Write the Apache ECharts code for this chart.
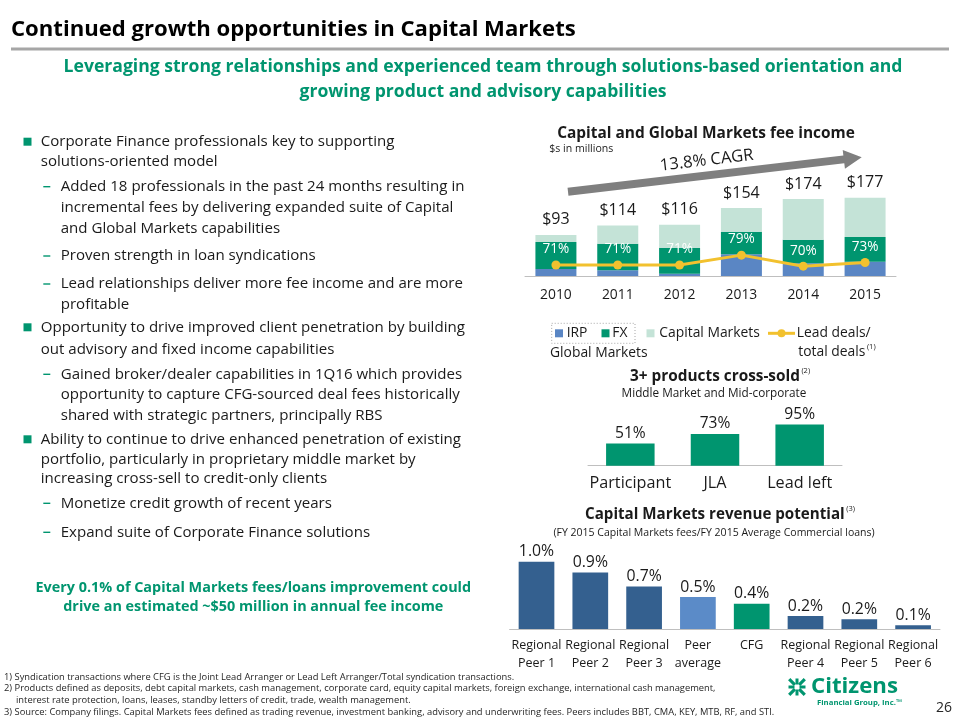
<!DOCTYPE html>
<html>
<head>
<meta charset="utf-8">
<script src="https://cdn.jsdelivr.net/npm/echarts@6/dist/echarts.min.js"></script>
<style>html,body{margin:0;padding:0;background:#fff;}#c{width:960px;height:720px;}</style>
</head>
<body>
<div id="c"></div>
<script>
// ---------- DATA ----------
const years = ['2010', '2011', '2012', '2013', '2014', '2015'];
const irpFees = [16, 13, 5, 49, 29, 32];
const fxFees = [61, 60, 59, 51, 53, 56];
const capMktsFees = [16, 41, 52, 54, 92, 89];
const leadDealPct = [71, 71, 71, 79, 70, 73];

const crossSellCats = ['Participant', 'JLA', 'Lead left'];
const crossSellPct = [51, 73, 95];

const peerCats = ['Regional\nPeer 1', 'Regional\nPeer 2', 'Regional\nPeer 3', 'Peer\naverage', 'CFG',
                  'Regional\nPeer 4', 'Regional\nPeer 5', 'Regional\nPeer 6'];
const peerRatio = [1.0, 0.84, 0.63, 0.475, 0.376, 0.193, 0.144, 0.055];
const peerRatioLabels = ['1.0%', '0.9%', '0.7%', '0.5%', '0.4%', '0.2%', '0.2%', '0.1%'];

const bodyLines = [
  ['b', 'Corporate Finance professionals key to supporting', 141.7],
  ['m', 'solutions-oriented model', 161.7],
  ['s', 'Added 18 professionals in the past 24 months resulting in', 186.7],
  ['c', 'incremental fees by delivering expanded suite of Capital', 207.3],
  ['c', 'and Global Markets capabilities', 228.3],
  ['s', 'Proven strength in loan syndications', 256],
  ['s', 'Lead relationships deliver more fee income and are more', 284],
  ['c', 'profitable', 305],
  ['b', 'Opportunity to drive improved client penetration by building', 327.3],
  ['m', 'out advisory and fixed income capabilities', 349.3],
  ['s', 'Gained broker/dealer capabilities in 1Q16 which provides', 374.3],
  ['c', 'opportunity to capture CFG-sourced deal fees historically', 395],
  ['c', 'shared with strategic partners, principally RBS', 415.7],
  ['b', 'Ability to continue to drive enhanced penetration of existing', 439.3],
  ['m', 'portfolio, particularly in proprietary middle market by', 459.3],
  ['m', 'increasing cross-sell to credit-only clients', 479],
  ['s', 'Monetize credit growth of recent years', 503.3],
  ['s', 'Expand suite of Corporate Finance solutions', 532.3]
];
const footnotes = [
  ['1) Syndication transactions where CFG is the Joint Lead Arranger or Lead Left Arranger/Total syndication transactions.', 4, 677.3],
  ['2) Products defined as deposits, debt capital markets, cash management, corporate card, equity capital markets, foreign exchange, international cash management,', 4, 688.7],
  ['interest rate protection, loans, leases, standby letters of credit, trade, wealth management.', 16, 700.3],
  ['3) Source: Company filings. Capital Markets fees defined as trading revenue, investment banking, advisory and underwriting fees. Peers includes BBT, CMA, KEY, MTB, RF, and STI.', 4, 712]
];

// ---------- STYLE ----------
const FONT = 'Open Sans';
const GREEN = '#00956F';
const TXT = '#1a1a1a';
const cv = document.createElement('canvas').getContext('2d');
function fit(text, weight, w) {
  cv.font = weight + ' 100px "' + FONT + '"';
  return +(100 * w / cv.measureText(text).width).toFixed(2);
}
function mw(text, weight, size) {
  cv.font = weight + ' ' + size + 'px "' + FONT + '"';
  return cv.measureText(text).width;
}
function T(x, y, text, size, o) {
  o = o || {};
  const al = o.align || 'left';
  return {
    type: 'text', x: x, y: y, rotation: o.rot || 0, silent: true, z: 10,
    style: {
      text: text, x: 0, y: 0, fill: o.color || TXT, fontSize: size, fontFamily: FONT,
      fontWeight: o.weight || 'normal', textAlign: al, align: al,
      textVerticalAlign: 'middle', verticalAlign: 'middle'
    }
  };
}

const g = [];
// header
g.push(T(11, 30, 'Continued growth opportunities in Capital Markets', fit('Continued growth opportunities in Capital Markets', 'bold', 565), {weight: 'bold', color: '#000'}));
g.push({type: 'rect', shape: {x: 11, y: 47.5, width: 938, height: 3}, style: {fill: '#A6A6A6'}, silent: true});
const sub1 = 'Leveraging strong relationships and experienced team through solutions-based orientation and';
const subSize = fit(sub1, 'bold', 839);
g.push(T(483, 66.7, sub1, subSize, {weight: 'bold', color: GREEN, align: 'center'}));
g.push(T(483, 91.7, 'growing product and advisory capabilities', subSize, {weight: 'bold', color: GREEN, align: 'center'}));

// body text
const bodySize = fit('Added 18 professionals in the past 24 months resulting in', 'normal', 404);
bodyLines.forEach(function (l) {
  const t = l[0], y = l[2];
  const x = (t === 'b' || t === 'm') ? 40.7 : 60.7;
  if (t === 'b') g.push({type: 'rect', shape: {x: 23.5, y: y - 4, width: 8, height: 8}, style: {fill: GREEN}, silent: true});
  if (t === 's') g.push({type: 'rect', shape: {x: 43.3, y: y - 0.7, width: 7, height: 1.4}, style: {fill: GREEN}, silent: true});
  g.push(T(x, y, l[1], bodySize));
});
const call1 = 'Every 0.1% of Capital Markets fees/loans improvement could';
const callSize = fit(call1, 'bold', 436);
g.push(T(253.3, 587.7, call1, callSize, {weight: 'bold', color: GREEN, align: 'center'}));
g.push(T(253.3, 607.3, 'drive an estimated ~$50 million in annual fee income', callSize, {weight: 'bold', color: GREEN, align: 'center'}));

// footnotes
const fnSize = fit(footnotes[3][0], 'normal', 771);
footnotes.forEach(function (f) { g.push(T(f[1], f[2], f[0], fnSize, {color: '#262626'})); });

// logo + page number
(function () {
  const cx = 797, cy = 687;
  for (let i = 0; i < 4; i++) {
    const a = i * Math.PI / 2 + Math.PI / 4;
    g.push({type: 'rect', x: cx, y: cy, rotation: a, shape: {x: 3, y: -1.6, width: 8, height: 3.2}, style: {fill: GREEN}, silent: true});
  }
  for (let i = 0; i < 4; i++) {
    const a = i * Math.PI / 2;
    g.push({type: 'rect', x: cx, y: cy, rotation: a, shape: {x: 2.5, y: -1.5, width: 6, height: 3}, style: {fill: GREEN}, silent: true});
  }
})();
g.push(T(811, 687, 'Citizens', fit('Citizens', 'bold', 87), {weight: 'bold', color: GREEN}));
g.push(T(817, 702.7, 'Financial Group, Inc.\u2122', fit('Financial Group, Inc.\u2122', 'bold', 85), {weight: 'bold', color: GREEN}));
g.push(T(944, 708.3, '26', 14, {align: 'center', color: '#262626'}));

// top chart titles
g.push(T(706, 133.3, 'Capital and Global Markets fee income', fit('Capital and Global Markets fee income', 'bold', 298), {weight: 'bold', align: 'center'}));
g.push(T(549.3, 149.3, '$s in millions', fit('$s in millions', 'normal', 64)));
// CAGR arrow
(function () {
  const S = [568, 191.7], E = [861.7, 157.3];
  const dx = E[0] - S[0], dy = E[1] - S[1], len = Math.hypot(dx, dy);
  const d = [dx / len, dy / len], n = [-d[1], d[0]];
  const h = 4, H = 9.5, L = 18;
  const B = [E[0] - d[0] * L, E[1] - d[1] * L];
  const P = function (p, k) { return [p[0] + n[0] * k, p[1] + n[1] * k]; };
  g.push({type: 'polygon', silent: true, shape: {points: [P(S, h), P(B, h), P(B, H), E, P(B, -H), P(B, -h), P(S, -h)]}, style: {fill: '#7F7F7F'}});
  const ang = Math.atan2(-dy, dx);
  g.push(T(706.7, 160.5, '13.8% CAGR', fit('13.8% CAGR', 'normal', 94), {align: 'center', rot: ang}));
})();

// legend
g.push({type: 'rect', silent: true, shape: {x: 551.7, y: 323.3, width: 83.3, height: 20}, style: {fill: 'none', stroke: '#A6A6A6', lineWidth: 1, lineDash: [1, 2]}});
const legSize = fit('Capital Markets', 'normal', 100.7);
g.push({type: 'rect', silent: true, shape: {x: 555, y: 329.3, width: 8, height: 8}, style: {fill: '#5A86C4'}});
g.push(T(566.7, 333.3, 'IRP', legSize));
g.push({type: 'rect', silent: true, shape: {x: 601.5, y: 329.3, width: 8, height: 8}, style: {fill: GREEN}});
g.push(T(612.3, 333.3, 'FX', legSize));
g.push({type: 'rect', silent: true, shape: {x: 646.5, y: 329.3, width: 8, height: 8}, style: {fill: '#C4E3D7'}});
g.push(T(659.3, 333.3, 'Capital Markets', legSize));
g.push({type: 'line', silent: true, shape: {x1: 768, y1: 333.3, x2: 795, y2: 333.3}, style: {stroke: '#F2C12E', lineWidth: 3}});
g.push({type: 'circle', silent: true, shape: {cx: 781.5, cy: 333.3, r: 4}, style: {fill: '#F2C12E'}});
g.push(T(796.7, 333.3, 'Lead deals/', legSize));
g.push(T(798.3, 351.7, 'total deals', legSize));
g.push(T(798.3 + mw('total deals', 'normal', legSize) + 1.5, 346.5, '(1)', 7.5));
g.push(T(550, 353.3, 'Global Markets', legSize));

// middle chart titles
const csTitle = '3+ products cross-sold';
const csTitleSize = fit(csTitle, 'bold', 170);
g.push(T(630, 376.7, csTitle, csTitleSize, {weight: 'bold'}));
g.push(T(630 + mw(csTitle, 'bold', csTitleSize) + 1.5, 370.5, '(2)', 7.5));
g.push(T(714, 394, 'Middle Market and Mid-corporate', fit('Middle Market and Mid-corporate', 'normal', 185), {align: 'center'}));

// bottom chart titles
const rpTitle = 'Capital Markets revenue potential';
const rpTitleSize = fit(rpTitle, 'bold', 260);
g.push(T(585, 515, rpTitle, rpTitleSize, {weight: 'bold'}));
g.push(T(585 + mw(rpTitle, 'bold', rpTitleSize) + 1.5, 508.5, '(3)', 7.5));
g.push(T(714, 533.3, '(FY 2015 Capital Markets fees/FY 2015 Average Commercial loans)', fit('(FY 2015 Capital Markets fees/FY 2015 Average Commercial loans)', 'normal', 321.7), {align: 'center'}));

// ---------- CHART ----------
const axisLineStyle = {show: true, lineStyle: {color: '#BFBFBF', width: 1}};
const yearSize = fit('2010', 'normal', 31.7);
const totalSize = fit('$114', 'normal', 36.7);
const pctSize = fit('71%', 'normal', 26.7);
const csCatSize = fit('Participant', 'normal', 81.7);
const csValSize = fit('51%', 'normal', 30.7);
const peerCatSize = fit('Regional', 'normal', 50);
const peerValSize = fit('1.0%', 'normal', 35.3);

const option = {
  animation: false,
  textStyle: {fontFamily: FONT},
  graphic: {elements: g},
  grid: [
    {left: 525, top: 187.6, width: 371, height: 88.4},
    {left: 588, top: 422.2, width: 254, height: 43.5},
    {left: 509.6, top: 561.7, width: 430.4, height: 67.3}
  ],
  xAxis: [
    {gridIndex: 0, type: 'category', data: years, axisTick: {show: false}, axisLine: axisLineStyle,
     axisLabel: {fontSize: yearSize, color: TXT, margin: 12, fontFamily: FONT, interval: 0}},
    {gridIndex: 1, type: 'category', data: crossSellCats, axisTick: {show: false}, axisLine: axisLineStyle,
     axisLabel: {fontSize: csCatSize, color: TXT, margin: 10, fontFamily: FONT, interval: 0, hideOverlap: false}},
    {gridIndex: 2, type: 'category', data: peerCats, axisTick: {show: false}, axisLine: axisLineStyle,
     axisLabel: {fontSize: peerCatSize, color: TXT, margin: 7, lineHeight: 18.5, fontFamily: FONT, interval: 0}}
  ],
  yAxis: [
    {gridIndex: 0, type: 'value', min: 0, max: 200, show: false},
    {gridIndex: 0, type: 'value', min: 62, max: 134, show: false},
    {gridIndex: 1, type: 'value', min: 0, max: 100, show: false},
    {gridIndex: 2, type: 'value', min: 0, max: 1.0, show: false}
  ],
  series: [
    {name: 'IRP', type: 'bar', xAxisIndex: 0, yAxisIndex: 0, stack: 'fees', barWidth: 41, data: irpFees,
     itemStyle: {color: '#5A86C4'}},
    {name: 'FX', type: 'bar', xAxisIndex: 0, yAxisIndex: 0, stack: 'fees', barWidth: 41, data: fxFees,
     itemStyle: {color: GREEN}},
    {name: 'Capital Markets', type: 'bar', xAxisIndex: 0, yAxisIndex: 0, stack: 'fees', barWidth: 41, data: capMktsFees,
     itemStyle: {color: '#C4E3D7'},
     label: {show: true, position: 'top', distance: 7, fontSize: totalSize, color: TXT, fontFamily: FONT,
       formatter: function (p) { const i = p.dataIndex; return '$' + (irpFees[i] + fxFees[i] + capMktsFees[i]); }}},
    {name: 'Lead deals/total deals', type: 'line', xAxisIndex: 0, yAxisIndex: 1, data: leadDealPct, z: 5,
     lineStyle: {color: '#F2C12E', width: 3}, itemStyle: {color: '#F2C12E'}, symbol: 'circle', symbolSize: 9,
     label: {show: true, position: 'top', distance: 4, fontSize: pctSize, color: '#fff', fontFamily: FONT,
       formatter: '{c}%'}},
    {name: 'Cross-sold', type: 'bar', xAxisIndex: 1, yAxisIndex: 2, barWidth: 48.5, data: crossSellPct,
     itemStyle: {color: GREEN},
     label: {show: true, position: 'top', distance: 2, fontSize: csValSize, color: TXT, fontFamily: FONT, formatter: '{c}%'}},
    {name: 'Revenue potential', type: 'bar', xAxisIndex: 2, yAxisIndex: 3, barWidth: 35.7, data: peerRatio,
     itemStyle: {color: function (p) { return p.dataIndex === 3 ? '#5B8BC8' : (p.dataIndex === 4 ? GREEN : '#34608F'); }},
     label: {show: true, position: 'top', distance: 2, fontSize: peerValSize, color: TXT, fontFamily: FONT,
       formatter: function (p) { return peerRatioLabels[p.dataIndex]; }}}
  ]
};
const chart = echarts.init(document.getElementById('c'), null, {renderer: 'canvas'});
chart.setOption(option);
</script>
</body>
</html>
